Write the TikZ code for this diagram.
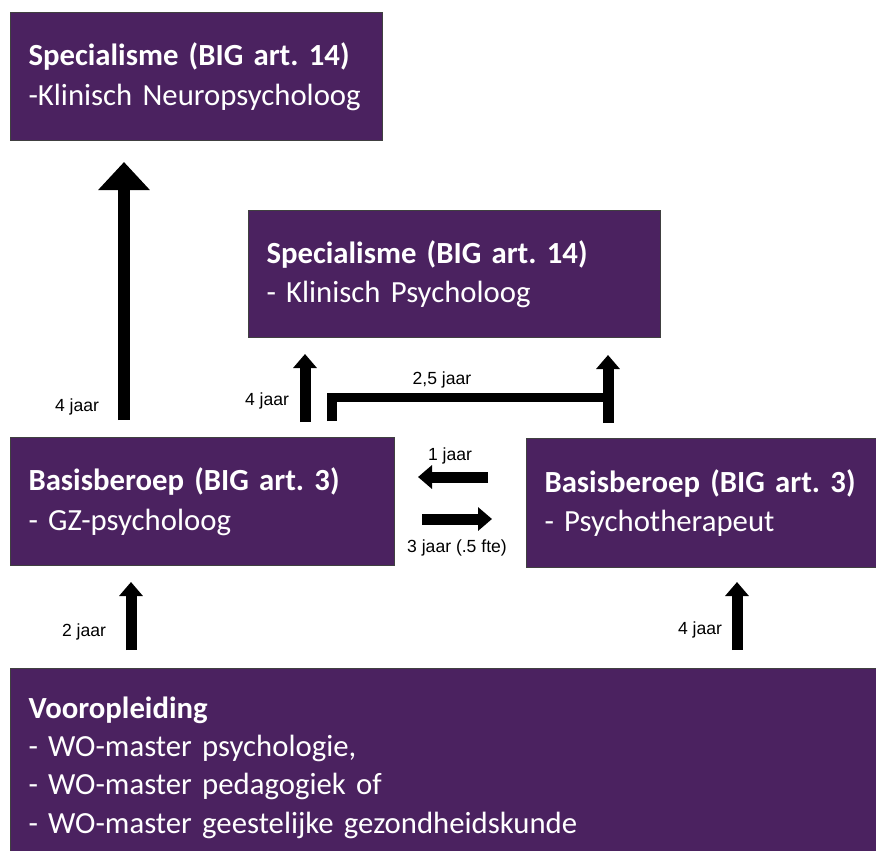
\documentclass[tikz,border=0pt]{standalone}
\usepackage{fontspec}
\setmainfont{Carlito}
\newfontfamily\lblfont{Liberation Sans}
\usepackage{xcolor}
\usetikzlibrary{arrows.meta}
\definecolor{bigpaars}{HTML}{4B2260}
\frenchspacing

\begin{document}
\begin{tikzpicture}[x=0.02cm, y=-0.02cm,
  blok/.style={draw=black!75, line width=0.6pt, fill=bigpaars, text=white, align=left, anchor=north west, inner xsep=0.36cm, font=\fontsize{17.5}{22.5}\selectfont},
  duur/.style={font=\lblfont\fontsize{10}{12}\selectfont, inner sep=1pt},
  pijl/.style={line width=0.22cm, -{Triangle[length=0.28cm, width=0.46cm]}}]
  \useasboundingbox (0,0) rectangle (876,850);

  \node[blok, text width=6.72cm, minimum height=2.56cm] (neuro) at (10,12) {\textbf{Specialisme (BIG art. 14)}\\-Klinisch Neuropsycholoog};
  \node[blok, text width=7.52cm, minimum height=2.54cm] (klin) at (248,210) {\textbf{Specialisme (BIG art. 14)}\\- Klinisch Psycholoog};
  \node[blok, text width=6.96cm, minimum height=2.56cm] (gz) at (10,437) {\textbf{Basisberoep (BIG art. 3)}\\- GZ-psycholoog};
  \node[blok, text width=6.28cm, minimum height=2.58cm] (psy) at (526,438) {\textbf{Basisberoep (BIG art. 3)}\\- Psychotherapeut};
  \node[blok, text width=16.6cm, minimum height=3.96cm, font=\fontsize{17.5}{21.8}\selectfont] (voor) at (10,668) {\textbf{Vooropleiding}\\- WO-master psychologie,\\- WO-master pedagogiek of\\- WO-master geestelijke gezondheidskunde};

  \coordinate (gz-a) at (124,420);
  \coordinate (neuro-a) at (124,162);
  \coordinate (gz-b) at (305,422);
  \coordinate (klin-b) at (305,354);
  \coordinate (gz-c) at (332,421);
  \coordinate (knik) at (608,397.5);
  \coordinate (psy-c) at (608,423);
  \coordinate (klin-c) at (608,355);
  \coordinate (psy-w) at (488,477);
  \coordinate (gz-o) at (418,477);
  \coordinate (gz-w) at (422,519);
  \coordinate (psy-o) at (492,519);
  \coordinate (voor-a) at (131,650);
  \coordinate (gz-d) at (131,582);
  \coordinate (voor-b) at (737,650);
  \coordinate (psy-d) at (737,582);

  \draw[line width=0.24cm, -{Triangle[length=0.56cm, width=1cm]}] (gz-a) -- (neuro-a);
  \draw[pijl] (gz-b) -- (klin-b);
  \draw[line width=0.19cm] (gz-c) |- (knik);
  \draw[pijl] (psy-c) -- (klin-c);
  \draw[pijl] (psy-w) -- (gz-o);
  \draw[pijl] (gz-w) -- (psy-o);
  \draw[pijl] (voor-a) -- (gz-d);
  \draw[pijl] (voor-b) -- (psy-d);

  \node[duur] (t1) at (77,407) {4 jaar};
  \node[duur] (t2) at (267,401) {4 jaar};
  \node[duur] (t3) at (442,380) {2,5 jaar};
  \node[duur] (t4) at (450,456) {1 jaar};
  \node[duur] (t5) at (457,548) {3 jaar (.5 fte)};
  \node[duur] (t6) at (84,632) {2 jaar};
  \node[duur] (t7) at (700,630) {4 jaar};
\end{tikzpicture}
\end{document}
